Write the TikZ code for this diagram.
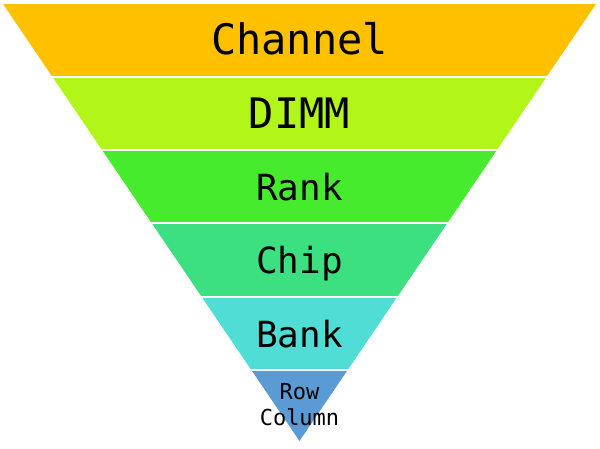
\documentclass[tikz,border=0pt]{standalone}
\usepackage{fontspec}
\setmonofont{DejaVu Sans Mono}
\definecolor{cChannel}{HTML}{FFC000}
\definecolor{cDimm}{HTML}{B2F518}
\definecolor{cRank}{HTML}{47EB2E}
\definecolor{cChip}{HTML}{3DE080}
\definecolor{cBank}{HTML}{4FDDD5}
\definecolor{cRow}{HTML}{5B9BD5}
\begin{document}
\begin{tikzpicture}[x=1pt,y=-1pt,
  lbl/.style={anchor=base,inner sep=0pt,font=\ttfamily},
  big/.style={lbl,font=\ttfamily\fontsize{42}{42}\selectfont},
  mid/.style={lbl,font=\ttfamily\fontsize{36}{36}\selectfont},
  small/.style={lbl,font=\ttfamily\fontsize{22}{26}\selectfont},
  gap/.style={white,line width=2pt}]
\useasboundingbox (0,0) rectangle (600,448);
\begin{scope}
\clip (3,4) -- (596,4) -- (299.5,441) -- cycle;
\fill[cChannel] (0,0) rectangle (600,77);
\fill[cDimm] (0,77) rectangle (600,150);
\fill[cRank] (0,150) rectangle (600,223);
\fill[cChip] (0,223) rectangle (600,297);
\fill[cBank] (0,297) rectangle (600,370);
\fill[cRow] (0,370) rectangle (600,448);
\foreach \y in {77,150,223,297,370} \draw[gap] (0,\y) -- (600,\y);
\end{scope}
\node[big] (channel) at (299.5,54) {Channel};
\node[big] (dimm) at (299.5,128) {DIMM};
\node[mid] (rank) at (299.5,200) {Rank};
\node[mid] (chip) at (299.5,273) {Chip};
\node[mid] (bank) at (299.5,347) {Bank};
\node[small] (row) at (299.5,399) {Row};
\node[small] (column) at (299.5,425) {Column};
\end{tikzpicture}
\end{document}
